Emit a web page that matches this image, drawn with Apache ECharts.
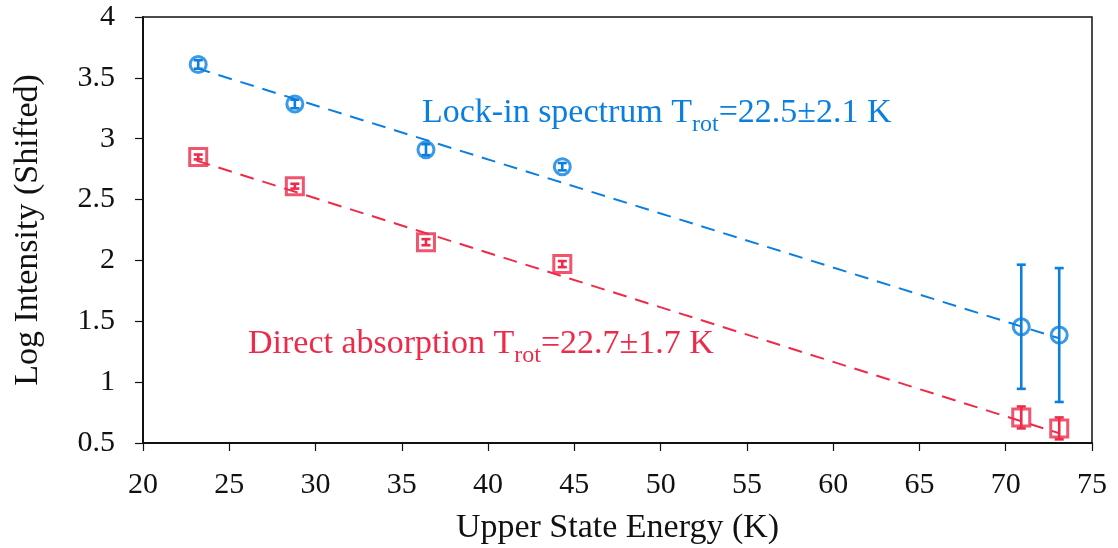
<!DOCTYPE html>
<html><head><meta charset="utf-8">
<script src="https://cdn.jsdelivr.net/npm/echarts@6/dist/echarts.min.js"></script>
<style>html,body{margin:0;padding:0;background:#fff}#c{width:1118px;height:548px}</style>
</head><body><div id="c"></div>
<script>
const energies = [23.2, 28.8, 36.4, 44.3, 70.9, 73.1];
const lockIn = [3.61, 3.285, 2.91, 2.77, 1.455, 1.387];
const lockInErr = [0.035, 0.035, 0.045, 0.03, 0.51, 0.55];
const direct = [2.85, 2.61, 2.15, 1.97, 0.71, 0.62];
const directErr = [0.02, 0.02, 0.025, 0.025, 0.09, 0.09];
const fitX = [23.1, 73.1];
const lockInFit = [3.58, 1.36];
const directFit = [2.82, 0.58];
const xTicks = [20, 25, 30, 35, 40, 45, 50, 55, 60, 65, 70, 75];
const yTicks = [0.5, 1, 1.5, 2, 2.5, 3, 3.5, 4];

const BLUE = '#0b7fe0', RED = '#ee2a4a';
const FONT = 'Liberation Serif';

function errSeries(vals, errs, color) {
  return {
    type: 'custom', z: 5,
    data: energies.map((x, i) => [x, vals[i] - errs[i], vals[i] + errs[i]]),
    renderItem: function (params, api) {
      const lo = api.coord([api.value(0), api.value(1)]);
      const hi = api.coord([api.value(0), api.value(2)]);
      const w = 4.5;
      const st = { stroke: color, lineWidth: 2.6 };
      return { type: 'group', children: [
        { type: 'line', shape: { x1: lo[0], y1: lo[1], x2: hi[0], y2: hi[1] }, style: st },
        { type: 'line', shape: { x1: lo[0] - w, y1: lo[1], x2: lo[0] + w, y2: lo[1] }, style: st },
        { type: 'line', shape: { x1: hi[0] - w, y1: hi[1], x2: hi[0] + w, y2: hi[1] }, style: st }
      ]};
    }
  };
}

function richLabel(color) {
  return {
    a: { fontFamily: FONT, fontSize: 34, lineHeight: 40, fill: color, verticalAlign: 'bottom', padding: [0, 0, 7, 0] },
    s: { fontFamily: FONT, fontSize: 24, lineHeight: 30, fill: color, verticalAlign: 'bottom' }
  };
}

const chart = echarts.init(document.getElementById('c'), null, { renderer: 'canvas' });
const axisLabel = { fontFamily: FONT, fontSize: 30, color: '#111' };
chart.setOption({
  animation: false,
  backgroundColor: '#fff',
  grid: { left: 143, right: 26, top: 17, bottom: 105, containLabel: false, outerBoundsMode: 'none',
    show: true, borderColor: '#111', borderWidth: 1.5, backgroundColor: 'transparent' },
  xAxis: {
    type: 'value', min: 20, max: 75, interval: 5,
    name: 'Upper State Energy (K)', nameLocation: 'middle', nameGap: 68,
    nameTextStyle: { fontFamily: FONT, fontSize: 34, color: '#111' },
    axisLine: { lineStyle: { color: '#111', width: 2 } },
    axisTick: { length: 8, lineStyle: { color: '#111', width: 1.2 } },
    axisLabel: Object.assign({ margin: 27, formatter: v => xTicks.includes(v) ? String(v) : '' }, axisLabel),
    splitLine: { show: false }
  },
  yAxis: {
    type: 'value', min: 0.5, max: 4, interval: 0.5,
    name: 'Log Intensity (Shifted)', nameLocation: 'middle', nameGap: 98,
    nameTextStyle: { fontFamily: FONT, fontSize: 34, color: '#111' },
    axisLine: { show: true, lineStyle: { color: '#111', width: 2 } },
    axisTick: { show: true, length: 8, lineStyle: { color: '#111', width: 1.2 } },
    axisLabel: Object.assign({ margin: 28, formatter: v => yTicks.includes(v) ? String(v) : '' }, axisLabel),
    splitLine: { show: false }
  },
  series: [
    { type: 'line', data: fitX.map((x, i) => [x, lockInFit[i]]), symbol: 'none', z: 2,
      lineStyle: { color: BLUE, width: 2, type: [14, 9] } },
    { type: 'line', data: fitX.map((x, i) => [x, directFit[i]]), symbol: 'none', z: 2,
      lineStyle: { color: RED, width: 2, type: [14, 9] } },
    errSeries(lockIn, lockInErr, BLUE),
    errSeries(direct, directErr, RED),
    { type: 'scatter', data: energies.map((x, i) => [x, lockIn[i]]), symbol: 'circle', symbolSize: 16, z: 6,
      itemStyle: { color: 'rgba(0,0,0,0)', borderColor: BLUE, borderWidth: 3 } },
    { type: 'scatter', data: energies.map((x, i) => [x, direct[i]]), symbol: 'rect', symbolSize: 17, z: 6,
      itemStyle: { color: 'rgba(0,0,0,0)', borderColor: RED, borderWidth: 3 } }
  ],
  graphic: [
    { type: 'text', left: 422, top: 96, z: 10,
      style: { text: '{a|Lock-in spectrum T}{s|rot}{a|=22.5±2.1 K}', rich: richLabel(BLUE) } },
    { type: 'text', left: 248, top: 327, z: 10,
      style: { text: '{a|Direct absorption T}{s|rot}{a|=22.7±1.7 K}', rich: richLabel(RED) } }
  ]
});
</script></body></html>
